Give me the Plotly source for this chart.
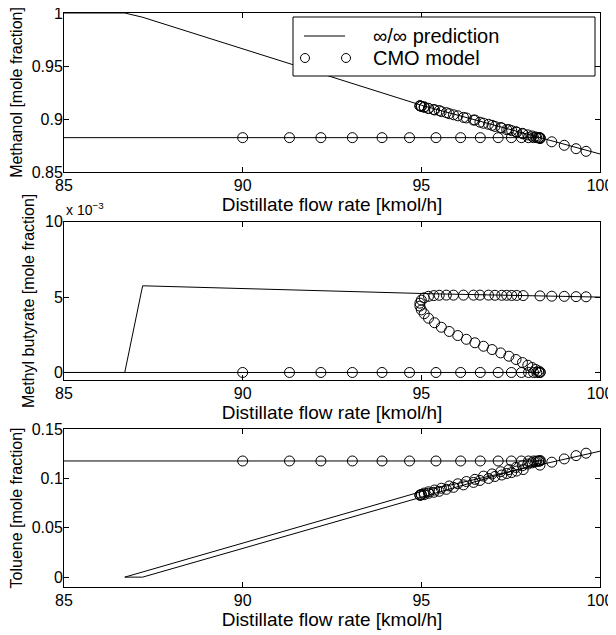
import plotly.graph_objects as go

# CMO model - distillate flow rate on the three branches
x_flat = [90.0, 91.31, 92.19, 93.07, 93.9, 94.67, 95.41, 96.1, 96.65, 97.15, 97.52, 97.8,
          98.0, 98.14, 98.23, 98.29, 98.32]
x_back = [98.33, 98.28, 98.2, 98.1, 97.98, 97.83, 97.65, 97.45, 97.22, 96.98, 96.74, 96.5,
          96.26, 96.02, 95.78, 95.56, 95.37, 95.2, 95.08, 95.0, 94.96, 94.96, 95.0, 95.08,
          95.2, 95.35]
x_upper = [95.5, 95.7, 95.9, 96.18, 96.46, 96.64, 96.88, 97.06, 97.25, 97.39, 97.53, 97.67,
           97.85, 98.32, 98.65, 99.0, 99.33, 99.61]

# methanol [mole fraction]
meoh_flat = [0.8824, 0.8824, 0.8824, 0.8824, 0.8824, 0.8824, 0.8824, 0.8824, 0.8824, 0.8824,
             0.8824, 0.8824, 0.8824, 0.8824, 0.8824, 0.8824, 0.8824]
meoh_back = [0.882, 0.8825, 0.883, 0.884, 0.885, 0.8865, 0.888, 0.89, 0.892, 0.894, 0.896,
             0.899, 0.901, 0.903, 0.905, 0.907, 0.9085, 0.91, 0.911, 0.912, 0.9125, 0.9125,
             0.912, 0.9115, 0.91, 0.909]
meoh_upper = [0.908, 0.906, 0.904, 0.9015, 0.899, 0.897, 0.895, 0.893, 0.8915, 0.89, 0.889,
              0.8875, 0.886, 0.8815, 0.8785, 0.8752, 0.872, 0.8695]

# methyl butyrate [x 1e-3 mole fraction]
mb_flat = [0, 0, 0, 0, 0, 0, 0, 0, 0, 0, 0, 0, 0, 0, 0, 0, 0]
mb_back = [0.02, 0.1, 0.2, 0.33, 0.48, 0.66, 0.86, 1.08, 1.3, 1.52, 1.74, 1.97, 2.2, 2.45,
           2.72, 3.0, 3.3, 3.6, 3.9, 4.15, 4.4, 4.6, 4.8, 4.95, 5.05, 5.1]
mb_upper = [5.12, 5.13, 5.13, 5.13, 5.13, 5.13, 5.13, 5.12, 5.12, 5.12, 5.11, 5.11, 5.1,
            5.08, 5.06, 5.05, 5.03, 5.02]

# toluene [mole fraction]
tol_flat = [0.1176, 0.1176, 0.1176, 0.1176, 0.1176, 0.1176, 0.1176, 0.1176, 0.1176, 0.1176,
            0.1176, 0.1176, 0.1176, 0.1176, 0.1176, 0.1176, 0.1176]
tol_back = [0.118, 0.1174, 0.1168, 0.1157, 0.1145, 0.1128, 0.1111, 0.1089, 0.1067, 0.1045,
            0.1023, 0.099, 0.0968, 0.0945, 0.0923, 0.09, 0.0882, 0.0864, 0.0851, 0.0838,
            0.0831, 0.0829, 0.0832, 0.0835, 0.0849, 0.0859]
tol_upper = [0.0869, 0.0889, 0.0909, 0.0934, 0.0959, 0.0979, 0.0999, 0.1019, 0.1034, 0.1049,
             0.1059, 0.1074, 0.1089, 0.1134, 0.1164, 0.1197, 0.123, 0.1255]

# inf/inf prediction
pred_flat_x = [85, 98.33]
pred_meoh_flat = [0.8824, 0.8824]
pred_mb_flat = [0, 0]
pred_tol_flat = [0.1176, 0.1176]
pred_meoh_x = [85, 86.7, 87.2, 90, 95, 100]
pred_meoh = [1.0, 1.0, 0.996, 0.966, 0.913, 0.867]
pred_mb_x = [85, 86.7, 87.2, 95.3, 100]
pred_mb = [0, 0, 5.75, 5.22, 5.0]
pred_tol_x = [98.33, 95.0, 87.2, 86.7, 95.0, 100]
pred_tol = [0.1155, 0.0809, 0, 0, 0.0866, 0.1275]

FONT = "Liberation Sans, Arial, Helvetica, sans-serif"
line_style = dict(color="black", width=1)
marker_style = dict(symbol="circle-open", size=10, color="black", line=dict(color="black", width=1))

panels = [
    (pred_meoh_x, pred_meoh, pred_meoh_flat, [meoh_flat, meoh_back, meoh_upper]),
    (pred_mb_x, pred_mb, pred_mb_flat, [mb_flat, mb_back, mb_upper]),
    (pred_tol_x, pred_tol, pred_tol_flat, [tol_flat, tol_back, tol_upper]),
]

fig = go.Figure()
for i, (px_, py_, pflat, cmo) in enumerate(panels):
    xa = "x" if i == 0 else "x%d" % (i + 1)
    ya = "y" if i == 0 else "y%d" % (i + 1)
    fig.add_trace(go.Scatter(x=pred_flat_x + [None] + px_, y=pflat + [None] + py_,
                             mode="lines", line=line_style, xaxis=xa, yaxis=ya,
                             showlegend=False))
    fig.add_trace(go.Scatter(x=x_flat + [None] + x_back + x_upper,
                             y=cmo[0] + [None] + cmo[1] + cmo[2],
                             mode="markers", marker=marker_style, xaxis=xa, yaxis=ya,
                             showlegend=False))

# plot area (page offset 8px by the body margin): left 56, width 536, top 5, height 574
domains = [[0.723, 1.0], [0.3606, 0.6364], [0.0, 0.2753]]
yranges = [[0.85, 1.0], [-0.5, 10], [-0.01, 0.15]]
yticks = [([0.85, 0.9, 0.95, 1.0], ["0.85", "0.9", "0.95", "1"]),
          ([0, 5, 10], ["0", "5", "10"]),
          ([0, 0.05, 0.1, 0.15], ["0", "0.05", "0.1", "0.15"])]
ytitles = ["Methanol [mole fraction]", "Methyl butyrate [mole fraction]",
           "Toluene [mole fraction]"]

axis_common = dict(showline=True, linecolor="black", linewidth=1, mirror="allticks",
                   ticks="inside", ticklen=5, tickcolor="black", showgrid=False,
                   zeroline=False, ticklabeloverflow="allow",
                   tickfont=dict(family=FONT, size=16, color="black"))

layout = {}
for i in range(3):
    xk = "xaxis" if i == 0 else "xaxis%d" % (i + 1)
    yk = "yaxis" if i == 0 else "yaxis%d" % (i + 1)
    ya = "y" if i == 0 else "y%d" % (i + 1)
    xa = "x" if i == 0 else "x%d" % (i + 1)
    layout[xk] = dict(axis_common, range=[85, 100], tickvals=[85, 90, 95, 100],
                      anchor=ya, domain=[0, 1], ticklabelstandoff=-1,
                      title=dict(text="Distillate flow rate [kmol/h]", standoff=0,
                                 font=dict(family=FONT, size=19, color="black")))
    layout[yk] = dict(axis_common, range=yranges[i], tickvals=yticks[i][0],
                      ticktext=yticks[i][1], anchor=xa, domain=domains[i],
                      ticklabelstandoff=-3,
                      title=dict(text=ytitles[i], standoff=6,
                                 font=dict(family=FONT, size=16, color="black")))

fig.update_layout(**layout)


def fx(p):
    return (p - 64) / 536


def fy(p):
    return 1 - (p - 13) / 574


shapes = [
    dict(type="rect", xref="paper", yref="paper", x0=fx(293), x1=fx(595), y0=fy(76), y1=fy(17),
         line=dict(color="black", width=1), fillcolor="white", layer="above"),
    dict(type="line", xref="paper", yref="paper", x0=fx(304), x1=fx(345), y0=fy(36), y1=fy(36),
         line=dict(color="black", width=1)),
]
for cx in [305, 346]:
    shapes.append(dict(type="circle", xref="paper", yref="paper", xsizemode="pixel",
                       ysizemode="pixel", xanchor=fx(cx), yanchor=fy(58),
                       x0=-4.5, x1=4.5, y0=-4.5, y1=4.5, line=dict(color="black", width=1)))

annotations = [
    dict(text="∞/∞ prediction", xref="paper", yref="paper", x=fx(371), y=fy(36),
         xanchor="left", yanchor="middle", showarrow=False,
         font=dict(family=FONT, size=20, color="black")),
    dict(text="CMO model", xref="paper", yref="paper", x=fx(371), y=fy(58),
         xanchor="left", yanchor="middle", showarrow=False,
         font=dict(family=FONT, size=20, color="black")),
    dict(text="x 10<sup>−3</sup>", xref="paper", yref="paper", x=fx(64), y=fy(209),
         xanchor="left", yanchor="middle", showarrow=False,
         font=dict(family=FONT, size=14, color="black")),
]

fig.update_layout(
    width=616, height=635,
    margin=dict(l=56, r=24, t=5, b=56, autoexpand=False),
    paper_bgcolor="white", plot_bgcolor="white",
    shapes=shapes, annotations=annotations,
    showlegend=False,
)

fig.write_html("out.html")
